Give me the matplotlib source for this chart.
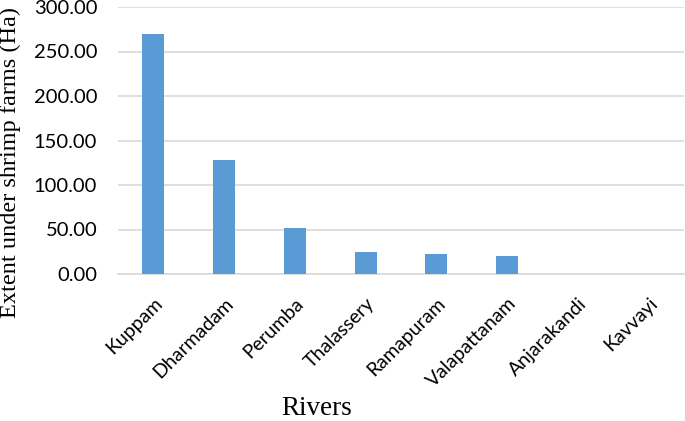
import matplotlib
matplotlib.use("Agg")
import matplotlib.pyplot as plt
from matplotlib.ticker import FormatStrFormatter

rivers = ["Kuppam", "Dharmadam", "Perumba", "Thalassery", "Ramapuram",
          "Valapattanam", "Anjarakandi", "Kavvayi"]
extent = [270.0, 128.0, 51.5, 24.5, 22.0, 20.0, 0.5, 0.0]
yticks = [0, 50, 100, 150, 200, 250, 300]

W, H = 685, 421
fig = plt.figure(figsize=(W / 100, H / 100), dpi=100)
ax = fig.add_axes([118 / W, 1 - 274 / H, (684 - 118) / W, (274 - 7) / H])

x = list(range(len(rivers)))
ax.bar(x, extent, width=0.31, color="#5B9BD5", zorder=3)
ax.set_xlim(-0.5, len(rivers) - 0.5)
ax.set_ylim(0, 300)
ax.set_yticks(yticks)
ax.yaxis.set_major_formatter(FormatStrFormatter("%.2f"))
ax.grid(axis="y", color="#D9D9D9", linewidth=1.2, zorder=0)
for s in ["top", "right", "left"]:
    ax.spines[s].set_visible(False)
ax.spines["bottom"].set_color("#D9D9D9")
ax.spines["bottom"].set_linewidth(1.2)
ax.tick_params(axis="both", length=0)
ax.tick_params(axis="y", labelsize=14.5, pad=15)
ax.tick_params(axis="x", pad=15)
ax.set_xticks(x)
ax.set_xticklabels(rivers, rotation=45, ha="right", rotation_mode="anchor", fontsize=14)
for lab in ax.get_yticklabels() + ax.get_xticklabels():
    lab.set_fontfamily("Lato")

fig.text(10 / W, 1 - 162 / H, "Extent under shrimp farms (Ha)", rotation=90,
         ha="center", va="center", fontsize=17.5, family="Liberation Serif")
fig.text(317 / W, 1 - 415 / H, "Rivers", ha="center", va="baseline",
         fontsize=19.5, family="Liberation Serif")

fig.savefig("out.png", dpi=100)
